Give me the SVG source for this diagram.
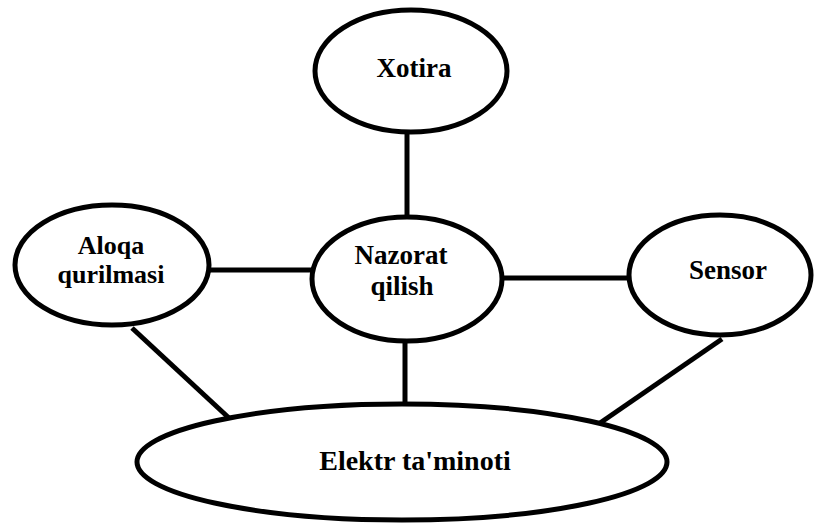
<svg xmlns="http://www.w3.org/2000/svg" width="815" height="526" viewBox="0 0 815 526">
  <style>
    .node { fill: #ffffff; stroke: #000000; stroke-width: 5; }
    .link { stroke: #000000; stroke-width: 5; fill: none; }
    .label { font-family: "Liberation Serif", "Times New Roman", serif; font-weight: bold; font-size: 27px; fill: #000000; text-anchor: middle; }
  </style>
  <rect width="815" height="526" fill="#ffffff"/>

  <!-- connectors -->
  <g id="connectors">
    <line class="link" x1="407" y1="133" x2="407" y2="216"/>
    <line class="link" x1="208" y1="270" x2="312" y2="270"/>
    <line class="link" x1="502" y1="278" x2="630" y2="278"/>
    <line class="link" x1="405" y1="340" x2="405" y2="404"/>
    <line class="link" x1="132" y1="328" x2="229" y2="418"/>
    <line class="link" x1="722" y1="339" x2="600" y2="423"/>
  </g>

  <g id="xotira">
    <ellipse class="node" cx="411" cy="71" rx="96" ry="61"/>
    <text class="label" x="414" y="77">Xotira</text>
  </g>

  <g id="nazorat">
    <ellipse class="node" cx="407" cy="279" rx="95" ry="62"/>
    <text class="label" x="401" y="264">Nazorat</text>
    <text class="label" x="402" y="295">qilish</text>
  </g>

  <g id="aloqa">
    <ellipse class="node" cx="112" cy="265" rx="97" ry="60"/>
    <text class="label" x="111" y="254" style="font-size:26px">Aloqa</text>
    <text class="label" x="111" y="283" style="font-size:26px">qurilmasi</text>
  </g>

  <g id="sensor">
    <ellipse class="node" cx="720" cy="275" rx="91" ry="60"/>
    <text class="label" x="728" y="279">Sensor</text>
  </g>

  <g id="elektr">
    <ellipse class="node" cx="402" cy="462" rx="265" ry="58"/>
    <text class="label" x="415" y="470" style="font-size:28px">Elektr ta'minoti</text>
  </g>
</svg>
